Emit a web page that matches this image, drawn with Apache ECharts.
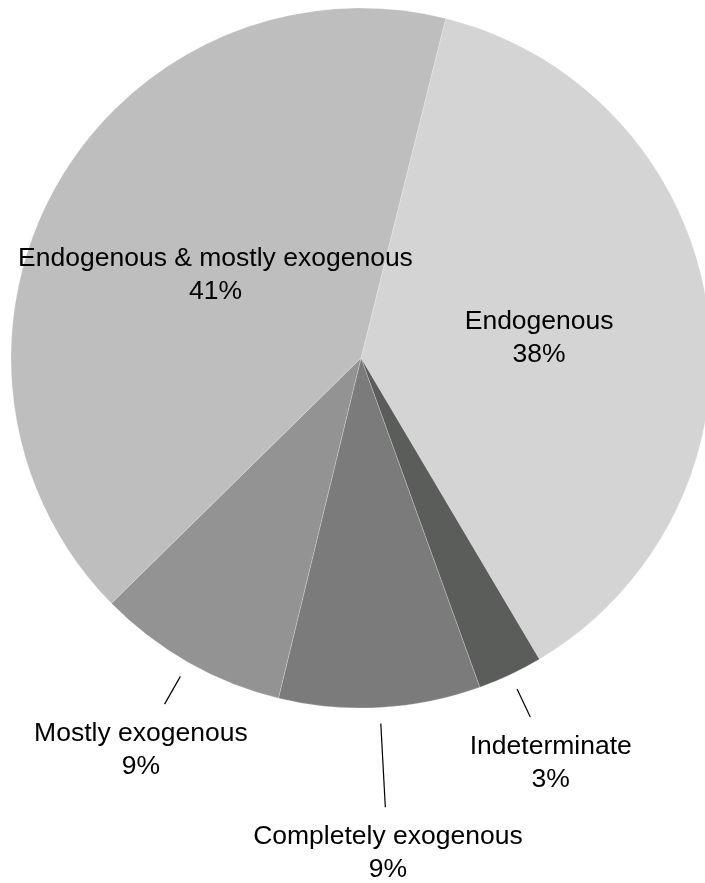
<!DOCTYPE html>
<html>
<head>
<meta charset="utf-8">
<script src="https://cdn.jsdelivr.net/npm/echarts@6/dist/echarts.min.js"></script>
<style>
  html, body { margin: 0; padding: 0; background: #ffffff; }
  #chart { width: 705px; height: 883px; }
</style>
</head>
<body>
<div id="chart"></div>
<script>
// Data (in drawing order, clockwise from the top)
var categories = ['Endogenous', 'Indeterminate', 'Completely exogenous', 'Mostly exogenous', 'Endogenous & mostly exogenous'];
var shares = [37.6, 3.0, 9.3, 8.85, 41.25];
var sliceColors = ['#d4d4d4', '#5b5d5b', '#7b7b7b', '#939393', '#bebebe'];
var labelInside = [true, false, false, false, true];
var leaderLength = [0, 47, 100, 48, 0];
var insideNudgeX = [2, 0, 0, 0, 9];
var insideNudgeY = [6, 0, 0, 0, 6];

var LINE_GAP = 16;

var chart = echarts.init(document.getElementById('chart'), null, { renderer: 'canvas' });

var data = categories.map(function (name, i) {
  var item = {
    name: name,
    value: shares[i],
    itemStyle: { color: sliceColors[i] }
  };
  if (labelInside[i]) {
    item.label = { position: 'inside' };
    item.labelLine = { show: false };
  } else {
    item.label = { position: 'outside' };
    item.labelLine = { show: true, length: leaderLength[i], length2: 0 };
  }
  return item;
});

chart.setOption({
  backgroundColor: '#ffffff',
  animation: false,
  series: [{
    type: 'pie',
    center: [361, 358],
    radius: 350,
    startAngle: 76,
    clockwise: true,
    percentPrecision: 0,
    avoidLabelOverlap: false,
    itemStyle: {
      borderColor: 'rgba(255,255,255,0.35)',
      borderWidth: 0.6
    },
    label: {
      show: true,
      formatter: '{b}\n{d}%',
      color: '#000000',
      fontFamily: '"Liberation Sans", Arial, Helvetica, sans-serif',
      fontSize: 26.5,
      lineHeight: 33,
      align: 'center'
    },
    labelLine: {
      show: true,
      smooth: false,
      lineStyle: { color: '#000000', width: 1.2 }
    },
    emphasis: { disabled: true },
    labelLayout: function (p) {
      var i = p.dataIndex;
      if (labelInside[i]) {
        return { align: 'center', verticalAlign: 'middle', dx: insideNudgeX[i], dy: insideNudgeY[i] };
      }
      var pts = p.labelLinePoints;
      if (!pts || pts.length < 2) return {};
      var a = pts[0], b = pts[1];
      var dx = b[0] - a[0], dy = b[1] - a[1];
      var L = Math.sqrt(dx * dx + dy * dy) || 1;
      var ux = dx / L, uy = dy / L;
      var start = [a[0] + ux * LINE_GAP, a[1] + uy * LINE_GAP];
      return {
        x: b[0] + ux * 48,
        y: b[1] + 13,
        align: 'center',
        verticalAlign: 'top',
        labelLinePoints: [start, b]
      };
    },
    data: data
  }]
});
</script>
</body>
</html>
